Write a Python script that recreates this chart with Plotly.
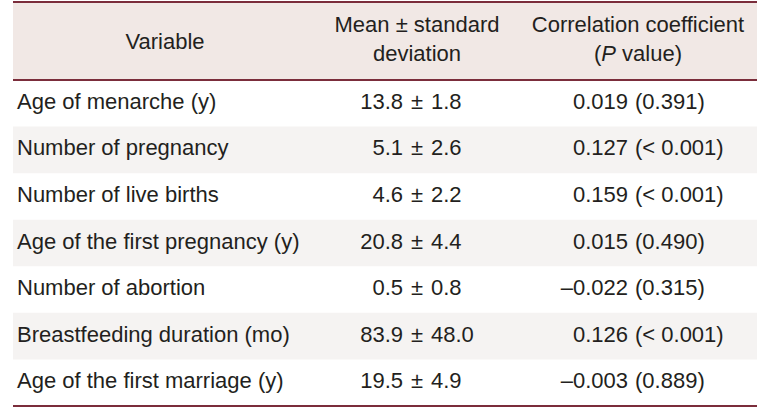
import plotly.graph_objects as go

# ---- data ----
variables = [
    "Age of menarche (y)",
    "Number of pregnancy",
    "Number of live births",
    "Age of the first pregnancy (y)",
    "Number of abortion",
    "Breastfeeding duration (mo)",
    "Age of the first marriage (y)",
]
means = [13.8, 5.1, 4.6, 20.8, 0.5, 83.9, 19.5]
sds = [1.8, 2.6, 2.2, 4.4, 0.8, 48.0, 4.9]
coefs = [0.019, 0.127, 0.159, 0.015, -0.022, 0.126, -0.003]
pvals = ["0.391", "< 0.001", "< 0.001", "0.490", "0.315", "< 0.001", "0.889"]
headers = ["Variable", "Mean ± standard<br>deviation", "Correlation coefficient<br>(<i>P</i> value)"]

# ---- layout constants ----
W, H = 768, 413
LEFT, RIGHT = 13, 757
TOP, HEAD_BOTTOM, BOTTOM = 2, 80, 406
n = len(variables)
row_h = (BOTTOM - HEAD_BOTTOM) / n
FONT = "Liberation Sans, Arial, sans-serif"
TXT = "#231f20"
RULE = "#7b2d3b"
HEAD_FILL = "#f1e8e5"
ALT_FILL = "#f5f3f2"
FS = 22

row_y = [HEAD_BOTTOM + row_h * (i + 0.5) for i in range(n)]

def fmt_coef(c):
    s = f"{abs(c):.3f}"
    return ("–" + s) if c < 0 else s

fig = go.Figure()

def txt(x, y, text, pos):
    fig.add_trace(go.Scatter(x=x, y=y, text=text, mode="text",
                             textposition=pos, hoverinfo="skip",
                             textfont=dict(family=FONT, size=FS, color=TXT)))

txt([17] * n, row_y, variables, "middle right")
txt([403] * n, row_y, [f"{m:.1f}" for m in means], "middle left")
txt([417] * n, row_y, ["±"] * n, "middle center")
txt([431] * n, row_y, [f"{s:.1f}" for s in sds], "middle right")
txt([628] * n, row_y, [fmt_coef(c) for c in coefs], "middle left")
txt([635] * n, row_y, [f"({p})" for p in pvals], "middle right")
txt([165, 417, 638], [43, 41, 41], headers, "middle center")

shapes = [dict(type="rect", x0=LEFT, x1=RIGHT, y0=TOP, y1=HEAD_BOTTOM,
               fillcolor=HEAD_FILL, line_width=0, layer="below")]
for i in range(n):
    if i % 2 == 1:
        shapes.append(dict(type="rect", x0=LEFT, x1=RIGHT,
                           y0=HEAD_BOTTOM + row_h * i, y1=HEAD_BOTTOM + row_h * (i + 1),
                           fillcolor=ALT_FILL, line_width=0, layer="below"))
for yy in (TOP, HEAD_BOTTOM, BOTTOM):
    shapes.append(dict(type="line", x0=LEFT, x1=RIGHT, y0=yy, y1=yy,
                       line=dict(color=RULE, width=2)))

fig.update_layout(
    width=W, height=H, margin=dict(l=0, r=0, t=0, b=0),
    paper_bgcolor="white", plot_bgcolor="white", showlegend=False,
    xaxis=dict(range=[0, W], visible=False, fixedrange=True),
    yaxis=dict(range=[H, 0], visible=False, fixedrange=True),
    shapes=shapes,
)
fig.write_html("out.html", post_script="document.body.style.margin='0';",
               config={"displayModeBar": False})
